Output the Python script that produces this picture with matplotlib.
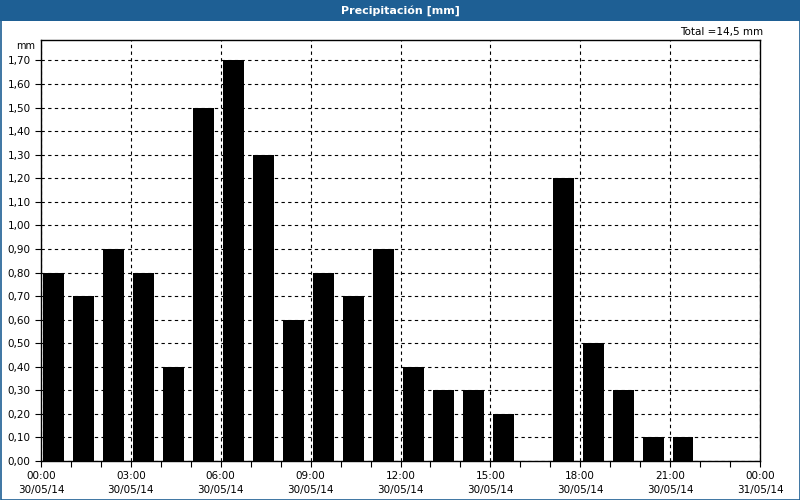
import matplotlib
matplotlib.use("Agg")
import matplotlib.pyplot as plt
from matplotlib.patches import Rectangle
from matplotlib.ticker import FixedLocator, MultipleLocator, FuncFormatter

plt.rcParams['font.family'] = ['DejaVu Sans']

# hourly precipitation, 30/05/14
hours = list(range(24))
values = [0.8, 0.7, 0.9, 0.8, 0.4, 1.5, 1.7, 1.3, 0.6, 0.8, 0.7, 0.9,
          0.4, 0.3, 0.3, 0.2, 0.0, 1.2, 0.5, 0.3, 0.1, 0.1, 0.0, 0.0]
tick_hours = [0, 3, 6, 9, 12, 15, 18, 21, 24]
tick_labels = ["00:00\n30/05/14", "03:00\n30/05/14", "06:00\n30/05/14",
               "09:00\n30/05/14", "12:00\n30/05/14", "15:00\n30/05/14",
               "18:00\n30/05/14", "21:00\n30/05/14", "00:00\n31/05/14"]
title = "Precipitación [mm]"
total_text = "Total =14,5 mm"

blue = "#1e5f94"

fig = plt.figure(figsize=(8, 5), dpi=100)
fig.patch.set_facecolor("white")

# title bar and thin frame
fig.patches.append(Rectangle((0, 1 - 21 / 500), 1, 21 / 500, transform=fig.transFigure,
                             facecolor=blue, edgecolor="none", zorder=0))
fig.patches.append(Rectangle((0.5 / 800, 0.5 / 500), 799 / 800, 499 / 500, transform=fig.transFigure,
                             facecolor="none", edgecolor=blue, linewidth=1.2, zorder=0))
fig.text(0.5, 1 - 10.5 / 500, title, color="white", fontsize=8, fontweight="bold",
         ha="center", va="center")

ax = fig.add_axes([41 / 800, 1 - 461 / 500, (760 - 41) / 800, (461 - 40) / 500])
ax.bar([h + 0.08 for h in hours], values, width=0.7, align="edge",
       color="black", edgecolor="none", zorder=2)

ax.set_xlim(0, 24)
ax.set_ylim(0, 1.787)
ax.xaxis.set_major_locator(FixedLocator(tick_hours))
ax.set_xticklabels(tick_labels, linespacing=1.55)
ax.xaxis.set_minor_locator(MultipleLocator(1))
ax.yaxis.set_major_locator(MultipleLocator(0.1))
ax.yaxis.set_major_formatter(FuncFormatter(lambda v, p: f"{v:.2f}".replace(".", ",")))

ax.grid(True, which="major", color="black", linestyle=(0, (3, 3)), linewidth=0.8, zorder=1)
ax.tick_params(axis="both", which="major", labelsize=7.5, length=4, width=0.8, color="black")
ax.tick_params(axis="x", which="minor", length=4, width=0.8)
ax.tick_params(axis="x", pad=3)
for s in ax.spines.values():
    s.set_linewidth(1.0)

fig.text(35 / 800, 1 - 46 / 500, "mm", fontsize=7, ha="right", va="center")
fig.text(763 / 800, 1 - 32 / 500, total_text, fontsize=7.5, ha="right", va="center")

fig.savefig("out.png", dpi=100)
